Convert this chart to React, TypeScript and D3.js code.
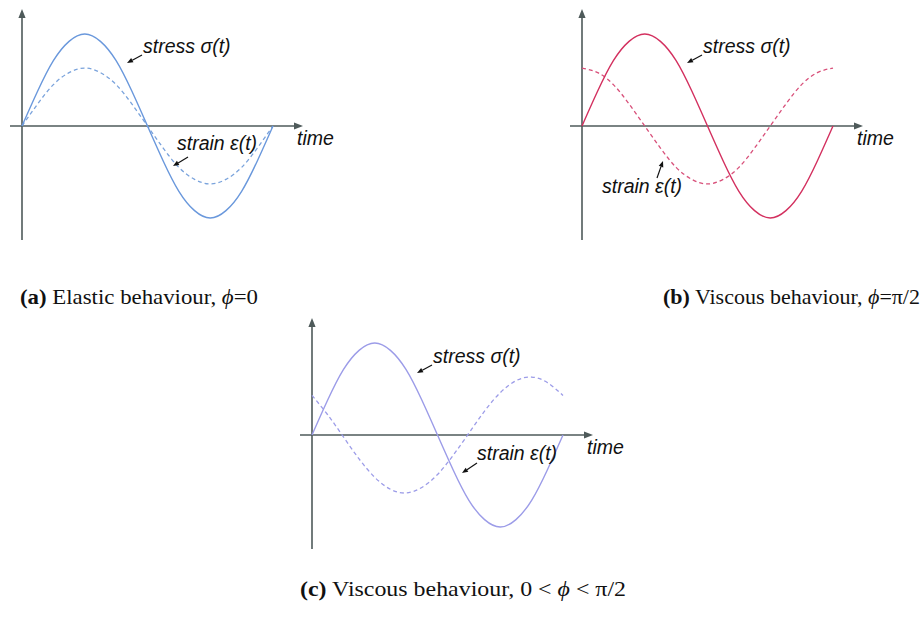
import React from "react";
import * as d3 from "d3";

// Time samples across one period (t = 0 … 1, every 1/16)
const timeSamples = [0, 0.0625, 0.125, 0.1875, 0.25, 0.3125, 0.375, 0.4375, 0.5, 0.5625, 0.625, 0.6875, 0.75, 0.8125, 0.875, 0.9375, 1];

// Normalised stress (same for all three panels)
const stressValues = [0, 0.38, 0.71, 0.92, 1.0, 0.92, 0.71, 0.38, 0, -0.38, -0.71, -0.92, -1.0, -0.92, -0.71, -0.38, 0];

// Strain, in phase with stress (elastic)
const strainElastic = [0, 0.24, 0.45, 0.58, 0.63, 0.58, 0.45, 0.24, 0, -0.24, -0.45, -0.58, -0.63, -0.58, -0.45, -0.24, 0];

// Strain, a quarter period out of phase (viscous)
const strainViscous = [0.63, 0.58, 0.45, 0.24, 0, -0.24, -0.45, -0.58, -0.63, -0.58, -0.45, -0.24, 0, 0.24, 0.45, 0.58, 0.63];

// Strain, intermediate phase shift (viscoelastic)
const strainViscoelastic = [0.43, 0.22, -0.02, -0.26, -0.46, -0.59, -0.63, -0.57, -0.43, -0.22, 0.02, 0.26, 0.46, 0.59, 0.63, 0.57, 0.43];

const captions = [
  { tag: "(a)", text: " Elastic behaviour, ", math: "ϕ", rest: "=0" },
  { tag: "(b)", text: " Viscous behaviour, ", math: "ϕ", rest: "=π/2" },
  { tag: "(c)", text: " Viscous behaviour, 0 < ", math: "ϕ", rest: " < π/2" },
];

const AXIS = "#4e5a5a";
const LABEL_FONT = "'Liberation Sans', Arial, sans-serif";
const CAPTION_FONT = "'Liberation Serif', 'DejaVu Serif', serif";

type PanelProps = {
  x0: number;
  y0: number;
  stress: number[];
  strain: number[];
  color: string;
  strainColor: string;
  stressLabel: [number, number];
  stressArrow: [number, number, number, number];
  strainLabel: [number, number];
  strainArrow: [number, number, number, number];
};

function Arrow({ x1, y1, x2, y2, color, head, width }: { x1: number; y1: number; x2: number; y2: number; color: string; head: number; width: number }) {
  const ang = Math.atan2(y2 - y1, x2 - x1);
  const hw = head * 0.4;
  const bx = x2 - head * Math.cos(ang);
  const by = y2 - head * Math.sin(ang);
  const p1 = [bx + hw * Math.sin(ang), by - hw * Math.cos(ang)];
  const p2 = [bx - hw * Math.sin(ang), by + hw * Math.cos(ang)];
  return (
    <g>
      <line x1={x1} y1={y1} x2={bx} y2={by} stroke={color} strokeWidth={width} />
      <polygon points={`${x2},${y2} ${p1[0]},${p1[1]} ${p2[0]},${p2[1]}`} fill={color} />
    </g>
  );
}

function Panel(p: PanelProps) {
  const x = d3.scaleLinear().domain([0, 1]).range([p.x0, p.x0 + 251]);
  const y = d3.scaleLinear().domain([-1, 1]).range([p.y0 + 92, p.y0 - 92]);
  const line = (vals: number[]) =>
    d3
      .line<number>()
      .x((_, i) => x(timeSamples[i]))
      .y((v) => y(v))
      .curve(d3.curveNatural)(vals) || "";
  return (
    <g>
      {/* axes */}
      <Arrow x1={p.x0} y1={p.y0 + 114} x2={p.x0} y2={p.y0 - 117} color={AXIS} head={9} width={1.6} />
      <Arrow x1={p.x0 - 12} y1={p.y0} x2={p.x0 + 281} y2={p.y0} color={AXIS} head={9} width={1.6} />
      {/* curves */}
      <path d={line(p.strain)} fill="none" stroke={p.strainColor} strokeWidth={1.3} strokeDasharray="4,3" />
      <path d={line(p.stress)} fill="none" stroke={p.color} strokeWidth={1.4} />
      {/* labels */}
      <text x={p.stressLabel[0]} y={p.stressLabel[1]} fontFamily={LABEL_FONT} fontStyle="italic" fontSize={19.5} fill="#111">
        stress σ(t)
      </text>
      <Arrow x1={p.stressArrow[0]} y1={p.stressArrow[1]} x2={p.stressArrow[2]} y2={p.stressArrow[3]} color="#111" head={6} width={1.2} />
      <text x={p.strainLabel[0]} y={p.strainLabel[1]} fontFamily={LABEL_FONT} fontStyle="italic" fontSize={19.5} fill="#111">
        strain ε(t)
      </text>
      <Arrow x1={p.strainArrow[0]} y1={p.strainArrow[1]} x2={p.strainArrow[2]} y2={p.strainArrow[3]} color="#111" head={6} width={1.2} />
      <text x={p.x0 + 275} y={p.y0 + 19} fontFamily={LABEL_FONT} fontStyle="italic" fontSize={19.5} fill="#111">
        time
      </text>
    </g>
  );
}

function Caption({ x, y, w, c }: { x: number; y: number; w: number; c: (typeof captions)[number] }) {
  return (
    <text x={x} y={y} fontFamily={CAPTION_FONT} fontSize={22} fill="#111" textLength={w} lengthAdjust="spacingAndGlyphs">
      <tspan fontWeight="bold">{c.tag}</tspan>
      <tspan>{c.text}</tspan>
      <tspan fontStyle="italic">{c.math}</tspan>
      <tspan>{c.rest}</tspan>
    </text>
  );
}

export default function App() {
  return (
    <div style={{ position: "absolute", left: 0, top: 0 }}>
      <svg width={922} height={619} style={{ display: "block", background: "#fff" }}>
        <Panel
          x0={22}
          y0={126}
          stress={stressValues}
          strain={strainElastic}
          color="#6a98dc"
          strainColor="#7aa3dc"
          stressLabel={[143, 53]}
          stressArrow={[142, 55, 127, 63]}
          strainLabel={[177, 150]}
          strainArrow={[188, 157, 173, 166]}
        />
        <Panel
          x0={582}
          y0={126}
          stress={stressValues}
          strain={strainViscous}
          color="#d3305f"
          strainColor="#d8507a"
          stressLabel={[703, 53]}
          stressArrow={[702, 55, 687, 63]}
          strainLabel={[602, 193]}
          strainArrow={[657, 178, 663, 161]}
        />
        <Panel
          x0={312}
          y0={435}
          stress={stressValues}
          strain={strainViscoelastic}
          color="#9c9ce8"
          strainColor="#9c9ce8"
          stressLabel={[433, 363]}
          stressArrow={[432, 365, 417, 373]}
          strainLabel={[477, 460]}
          strainArrow={[477, 463, 462, 473]}
        />
        <Caption x={20} y={304} w={238} c={captions[0]} />
        <Caption x={663} y={304} w={257} c={captions[1]} />
        <Caption x={300} y={596} w={326} c={captions[2]} />
      </svg>
    </div>
  );
}
